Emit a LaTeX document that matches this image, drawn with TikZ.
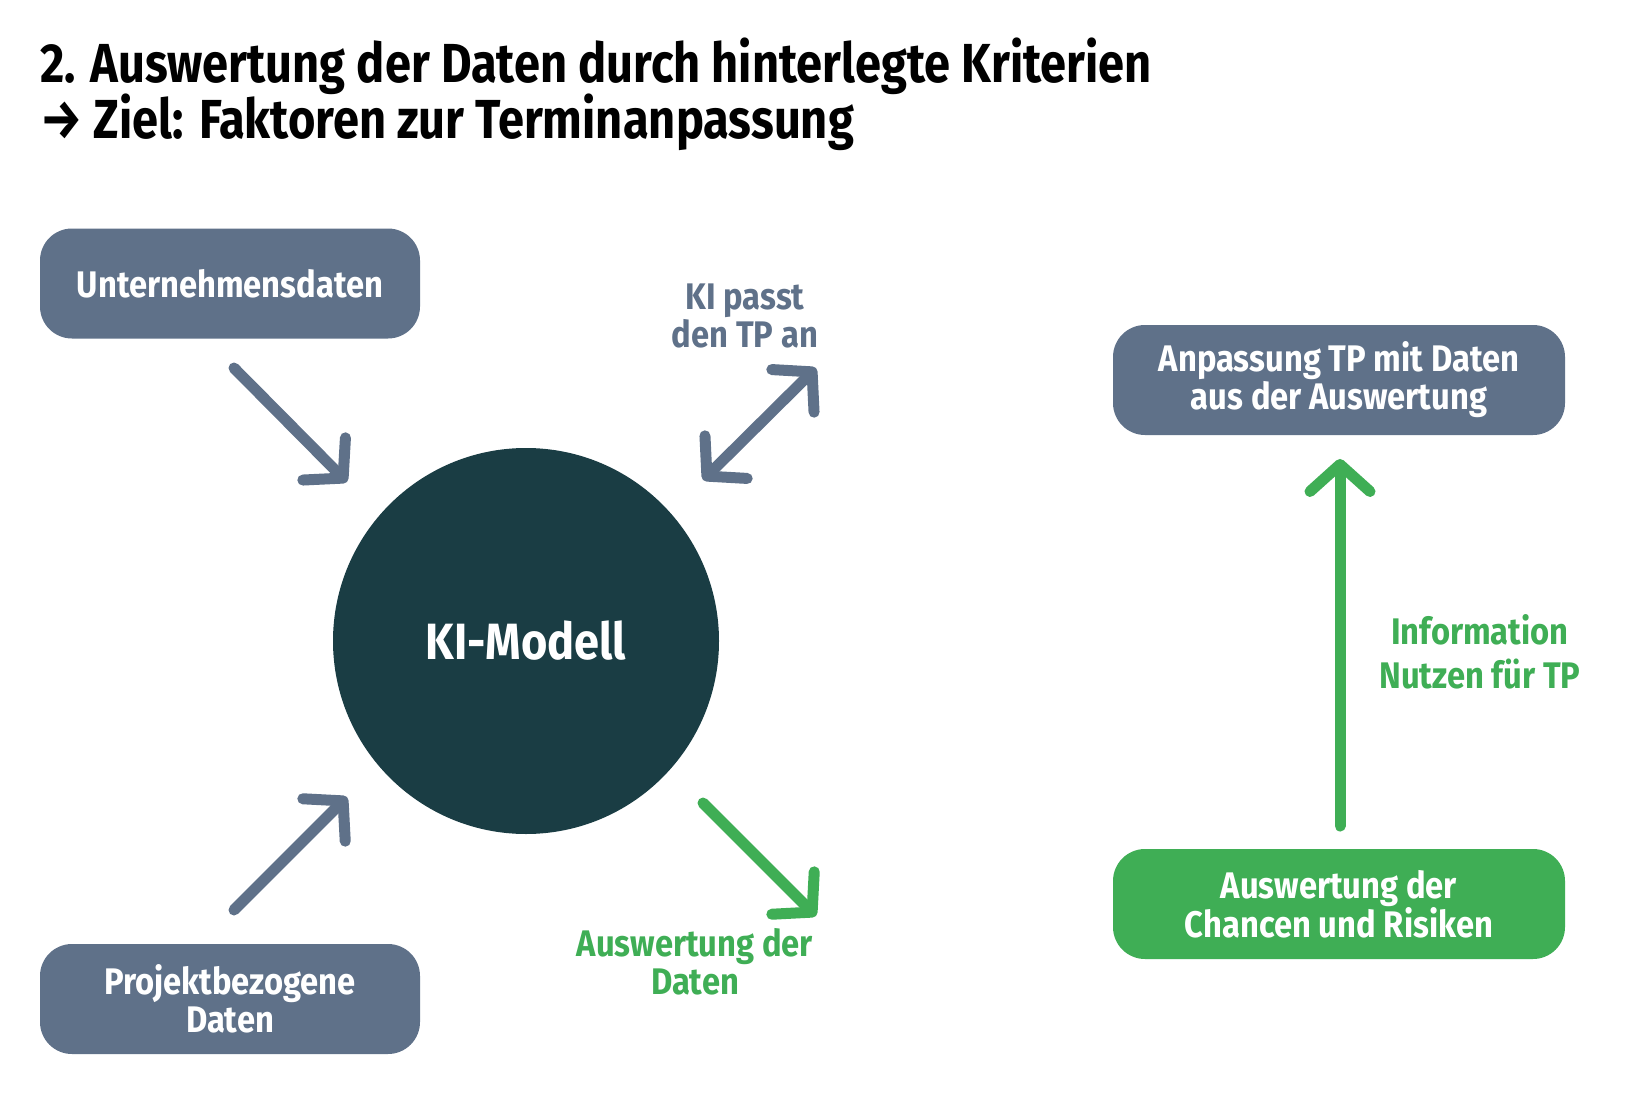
\documentclass[tikz,border=0pt]{standalone}
\usepackage{fontspec}
\setmainfont[FakeStretch=0.885]{Fira Sans}
\newfontfamily\titlefont[FakeStretch=0.855]{Fira Sans}
\usetikzlibrary{arrows.meta}
\definecolor{slatebox}{HTML}{5F7189}
\definecolor{kidark}{HTML}{1A3D44}
\definecolor{kigreen}{HTML}{3FAE55}
\tikzset{
  box/.style={rounded corners=32pt, minimum width=380pt, minimum height=110pt, align=center, text=white, font=\fontsize{37}{38}\selectfont\bfseries, inner sep=0pt},
  arr/.style={line width=11pt, line cap=round, -{Straight Barb[length=27pt,width=60pt,round]}},
  darr/.style={line width=11pt, line cap=round, {Straight Barb[length=27pt,width=60pt,round]}-{Straight Barb[length=27pt,width=60pt,round]}},
  lbl/.style={align=center, font=\fontsize{37}{38}\selectfont\bfseries, inner sep=0pt},
}
\begin{document}
\begin{tikzpicture}[x=1pt,y=-1pt]
\path[fill=white,use as bounding box] (0,0) rectangle (1650,1100);
\node[anchor=base west, inner sep=0pt, font=\titlefont\fontsize{55}{60}\selectfont\bfseries] (t1) at (40,82) {2. Auswertung der Daten durch hinterlegte Kriterien};
\node[anchor=base west, inner sep=0pt, font=\titlefont\fontsize{55}{60}\selectfont\bfseries] (t2) at (40,138) {→ Ziel: Faktoren zur Terminanpassung};

\node[box, fill=slatebox] (u) at (230,283.5) {Unternehmensdaten};
\node[box, fill=slatebox] (p) at (230,999) {Projektbezogene\\Daten};
\node[box, fill=slatebox, minimum width=452pt] (a) at (1339,380) {Anpassung TP mit Daten\\aus der Auswertung};
\node[box, fill=kigreen, minimum width=452pt] (c) at (1339,904) {Auswertung der\\Chancen und Risiken};

\node[circle, fill=kidark, minimum size=386pt, inner sep=0pt, text=white, font=\fontsize{51}{56}\selectfont\bfseries] (ki) at (526,641) {KI-Modell};

\coordinate (s1) at (234,368); \coordinate (e1) at (347,482);
\coordinate (s2) at (234,910); \coordinate (e2) at (347,797);
\coordinate (s3) at (703,480); \coordinate (e3) at (816,368);
\coordinate (s4) at (703,803); \coordinate (e4) at (816,916);
\coordinate (s5) at (1340,826); \coordinate (e5) at (1340,459);

\draw[arr, slatebox] (s1) -- (e1);
\draw[arr, slatebox] (s2) -- (e2);
\draw[darr, slatebox] (s3) -- (e3);
\draw[arr, kigreen] (s4) -- (e4);
\draw[arr, kigreen] (s5) -- (e5);

\node[lbl, text=slatebox] (l1) at (745,316) {KI passt\\den TP an};
\node[lbl, text=kigreen] (l2) at (695,962) {Auswertung der\\Daten};
\node[lbl, text=kigreen, font=\fontsize{37}{44}\selectfont\bfseries] (l3) at (1480,652) {Information\\Nutzen für TP};
\end{tikzpicture}
\end{document}
